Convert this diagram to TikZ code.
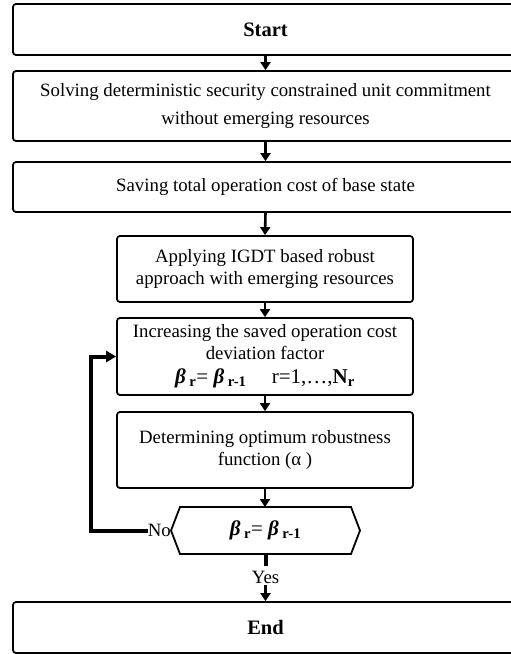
\documentclass[tikz,border=0pt]{standalone}
\usepackage{fontspec}
\setmainfont{Liberation Serif}
\usetikzlibrary{arrows.meta}
\newcommand\dfont{\fontsize{18.8}{22}\selectfont}
\newcommand\hfont{\fontsize{20.5}{24}\selectfont\bfseries}
\newcommand\bfont{\fontsize{21}{24}\selectfont}
\newcommand\bb{{\bfseries\itshape β}}
\newcommand\bsub[1]{\textsubscript{\bfseries #1}}
\begin{document}
\begin{tikzpicture}[x=1pt,y=-1pt,
  box/.style={draw, line width=1.8pt, rounded corners=3pt, align=center, inner sep=0pt, font=\dfont},
  flow/.style={line width=2.6pt, -{Triangle[width=10pt,length=8pt]}},
  loopline/.style={line width=4pt, -{Triangle[width=11pt,length=10pt]}},
  lbl/.style={inner sep=0pt, font=\dfont}]
\clip (0,0) rectangle (511,654);
\fill[white] (0,0) rectangle (511,654);
\node[box, minimum width=505pt, minimum height=51pt, font=\hfont] (start) at (265.5,29.5) {Start};
\node[box, minimum width=505pt, minimum height=70pt] (solve) at (265.5,106)
  {Solving deterministic security constrained unit commitment\\[6pt] without emerging resources};
\node[box, minimum width=505pt, minimum height=50pt] (save) at (265.5,187) {Saving total operation cost of base state};
\node[box, minimum width=296pt, minimum height=66pt] (apply) at (265,269)
  {Applying IGDT based robust\\ approach with emerging resources};
\node[box, minimum width=296pt, minimum height=77pt] (incr) at (265,356.5)
  {Increasing the saved operation cost\\ deviation factor\\[2pt]
   {\bfont\bb\,\bsub{r}= \bb\,\bsub{r-1}\hspace{1.2em}r=1,…,{\bfseries N}\bsub{r}}};
\node[box, minimum width=296pt, minimum height=76pt] (det) at (265,450)
  {Determining optimum robustness\\ function (α )};
\coordinate (hl) at (171,530.5);
\coordinate (hr) at (360,530.5);
\coordinate (hb) at (265.5,554);
\draw[line width=1.8pt] (hl) -- (180,507) -- (351,507) -- (hr) -- (351,554) -- (180,554) -- cycle;
\node[lbl, font=\bfont] (dec) at (265.5,530.5) {\bb\,\bsub{r}= \bb\,\bsub{r-1}};
\node[box, minimum width=505pt, minimum height=51pt, font=\hfont] (end) at (265.5,627.5) {End};
\node[lbl, anchor=east] (no) at (hl) {No};
\node[lbl] (yes) at (265.5,577) {Yes};
\draw[flow] (start.south) -- (solve.north);
\draw[flow] (solve.south) -- (save.north);
\draw[flow] (save.south) -- (apply.north);
\draw[flow] (apply.south) -- (incr.north);
\draw[flow] (incr.south) -- (det.north);
\draw[flow] (det.south) -- (265,507);
\draw[loopline] (no.west) -| ([xshift=-25pt]incr.west) -- (incr.west);
\draw[line width=4pt] (hb) -- ([yshift=5pt]yes.north);
\draw[flow, shorten <=2pt] (yes.south) -- (end.north);
\end{tikzpicture}
\end{document}
